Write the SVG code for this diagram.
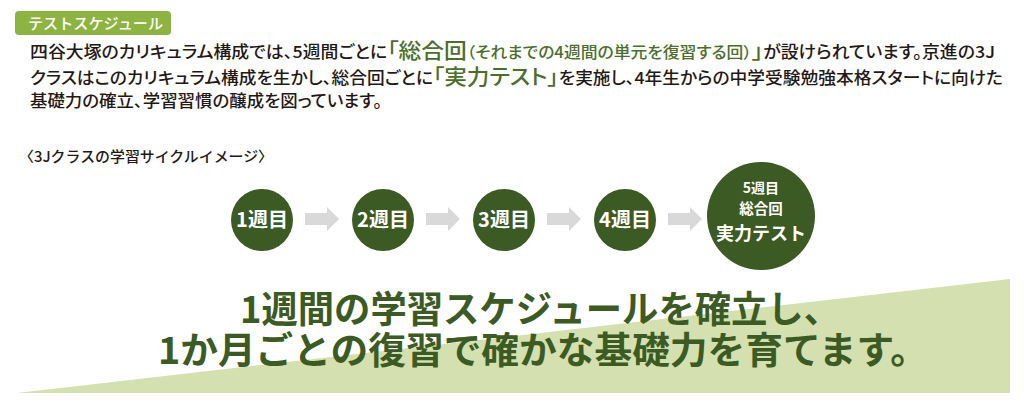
<svg xmlns="http://www.w3.org/2000/svg" width="1024" height="405" viewBox="0 0 1024 405">
<defs>
<style>
text{font-family:"Noto Sans CJK JP","Noto Sans",sans-serif;}
.body{font-size:16.5px;font-weight:500;fill:#231815;font-feature-settings:"palt";}
.gbig{font-size:21px;fill:#4b6e2c;}
.gsm{font-size:15.5px;fill:#4b6e2c;}
.node{fill:#3c5a23;}
.nt{fill:#ffffff;font-weight:700;text-anchor:middle;}
.arrow{fill:#d9d9d9;}
.slogan{font-size:37px;font-weight:700;fill:#3c5a23;}
</style>
<polygon id="arr" points="0,-6 22,-6 22,-12 34,0 22,12 22,6 0,6"/>
</defs>
<rect width="1024" height="405" fill="#ffffff"/>
<polygon id="band" points="17,393 1010,279 1010,393" fill="#d4e0b0"/>
<g id="tag">
<rect x="15" y="11" width="156" height="24" rx="4" fill="#8db443"/>
<text x="28" y="28.5" font-size="15" font-weight="500" fill="#ffffff" textLength="135" lengthAdjust="spacingAndGlyphs">テストスケジュール</text>
</g>
<g id="paragraph">
<text class="body" x="30" y="58" textLength="965" lengthAdjust="spacingAndGlyphs">四谷大塚のカリキュラム構成では、5週間ごとに<tspan class="gbig">「総合回</tspan><tspan class="gsm">（それまでの4週間の単元を復習する回）</tspan><tspan class="gbig">」</tspan>が設けられています。京進の3J</text>
<text class="body" x="30" y="84" textLength="973" lengthAdjust="spacingAndGlyphs">クラスはこのカリキュラム構成を生かし、総合回ごとに<tspan class="gbig">「実力テスト」</tspan>を実施し、4年生からの中学受験勉強本格スタートに向けた</text>
<text class="body" x="30" y="107" textLength="352" lengthAdjust="spacingAndGlyphs">基礎力の確立、学習習慣の醸成を図っています。</text>
</g>
<text id="caption" x="19" y="162" font-size="14.5" font-weight="500" fill="#231815" textLength="254" lengthAdjust="spacingAndGlyphs">〈3Jクラスの学習サイクルイメージ〉</text>
<g id="connectors">
<use href="#arr" class="arrow" x="305" y="219"/>
<use href="#arr" class="arrow" x="426" y="219"/>
<use href="#arr" class="arrow" x="547" y="219"/>
<use href="#arr" class="arrow" x="668" y="219"/>
</g>
<g id="week1">
<circle class="node" cx="262" cy="220" r="31"/>
<text class="nt" x="262" y="227" font-size="20">1週目</text>
</g>
<g id="week2">
<circle class="node" cx="383" cy="220" r="31"/>
<text class="nt" x="383" y="227" font-size="20">2週目</text>
</g>
<g id="week3">
<circle class="node" cx="504" cy="220" r="31"/>
<text class="nt" x="504" y="227" font-size="20">3週目</text>
</g>
<g id="week4">
<circle class="node" cx="625" cy="220" r="31"/>
<text class="nt" x="625" y="227" font-size="20">4週目</text>
</g>
<g id="week5">
<circle class="node" cx="761" cy="216" r="54"/>
<text class="nt" x="761" y="193" font-size="14">5週目</text>
<text class="nt" x="761" y="214" font-size="14.5">総合回</text>
<text class="nt" x="761" y="240" font-size="18">実力テスト</text>
</g>
<g id="slogan">
<text class="slogan" x="240" y="323" textLength="600" lengthAdjust="spacingAndGlyphs">1週間の学習スケジュールを確立し、</text>
<text class="slogan" x="158" y="364" textLength="770" lengthAdjust="spacingAndGlyphs">1か月ごとの復習で確かな基礎力を育てます。</text>
</g>
</svg>
